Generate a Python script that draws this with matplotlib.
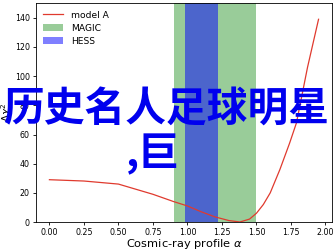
import matplotlib
matplotlib.use('Agg')
import matplotlib.pyplot as plt

# curve
alpha = [0.0, 0.25, 0.5, 0.75, 0.9, 1.0, 1.1, 1.2, 1.3, 1.38, 1.45, 1.5,
         1.55, 1.6, 1.67, 1.74, 1.79, 1.87, 1.95]
dchi2 = [29.0, 28.1, 26.0, 19.0, 14.0, 11.0, 7.0, 3.5, 1.0, 0.0, 2.0, 6.0,
         12.0, 20.0, 36.0, 54.0, 68.0, 106.0, 139.0]

# experiment ranges
magic = (0.9, 1.5)
hess = (0.98, 1.22)

y_ticks = [0, 20, 40, 60, 80, 100, 120, 140]
x_ticks = [0.0, 0.25, 0.5, 0.75, 1.0, 1.25, 1.5, 1.75, 2.0]

overlay_1 = '历史名人足球明星'
overlay_2 = ',巨'


def main():
    fig = plt.figure(figsize=(3.33, 2.5), dpi=100)
    ax = fig.add_axes([0.108, 0.112, 0.889, 0.875])

    ax.plot(alpha, dchi2, color='#e03a2e', lw=0.9, label='model A')
    ax.axvspan(*magic, color='green', alpha=0.4, lw=0, label='MAGIC')
    ax.axvspan(*hess, color='blue', alpha=0.5, lw=0, label='HESS')

    ax.set_ylim(0, 150)
    ax.set_xticks(x_ticks)
    ax.set_xticklabels([f'{t:.2f}' for t in x_ticks])
    ax.set_yticks(y_ticks)
    ax.tick_params(labelsize=5.7, length=2.5, width=0.6, pad=2)
    for s in ax.spines.values():
        s.set_linewidth(0.6)

    ax.set_xlabel(r'Cosmic-ray profile $\alpha$', fontsize=8.2, labelpad=0)
    ax.set_ylabel(r'$\Delta\chi^2$', fontsize=7.5, labelpad=0)

    ax.legend(loc='upper left', frameon=False, fontsize=6.6,
              handlelength=2.2, labelspacing=0.45, borderaxespad=0.4)

    cjk = ['Noto Sans CJK SC', 'DejaVu Sans']
    fig.text(0.5, 1 - 110.5 / 250, overlay_1, ha='center', va='center',
             color='#0000ee', fontsize=29.3, fontweight='bold', family=cjk)
    fig.text(0.378, 1 - 155 / 250, overlay_2, ha='left', va='center',
             color='#0000ee', fontsize=29.3, fontweight='bold', family=cjk)

    fig.savefig('out.png', dpi=100)


if __name__ == '__main__':
    main()
